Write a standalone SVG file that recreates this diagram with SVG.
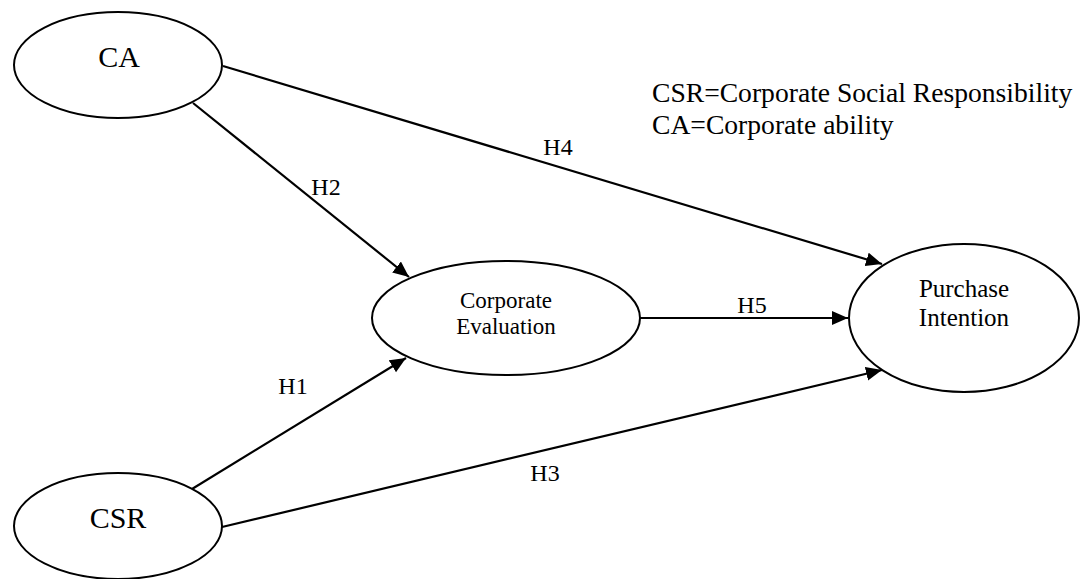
<svg xmlns="http://www.w3.org/2000/svg" width="1082" height="579" viewBox="0 0 1082 579">
  <style>
    .node { fill: #ffffff; stroke: #000000; stroke-width: 2; }
    .edge { fill: none; stroke: #000000; stroke-width: 2.2; marker-end: url(#arrow); }
    text { font-family: "Liberation Serif", "Times New Roman", serif; fill: #000000; }
    .big { font-size: 30px; text-anchor: middle; }
    .mid { font-size: 25px; text-anchor: middle; }
    .small { font-size: 23px; text-anchor: middle; }
    .lbl { font-size: 24px; text-anchor: middle; }
    .legend { font-size: 27.6px; }
  </style>
  <defs>
    <marker id="arrow" markerUnits="userSpaceOnUse" markerWidth="18" markerHeight="16" refX="16" refY="7" orient="auto">
      <path d="M0,0 L16,7 L0,14 Z" fill="#000000"/>
    </marker>
  </defs>

  <rect width="1082" height="579" fill="#ffffff"/>

  <!-- connectors -->
  <g id="edges">
    <line class="edge" x1="223" y1="66" x2="882" y2="264"/>
    <line class="edge" x1="193" y1="103" x2="409" y2="277"/>
    <line class="edge" x1="192" y1="489" x2="406" y2="358"/>
    <line class="edge" x1="222" y1="527" x2="882" y2="370"/>
    <line class="edge" x1="640" y1="318" x2="848" y2="318"/>
    <text class="lbl" x="558" y="155">H4</text>
    <text class="lbl" x="326" y="195">H2</text>
    <text class="lbl" x="293" y="394">H1</text>
    <text class="lbl" x="545" y="481">H3</text>
    <text class="lbl" x="752" y="313">H5</text>
  </g>

  <g id="node-ca">
    <ellipse class="node" cx="118" cy="65" rx="104" ry="53"/>
    <text class="big" x="119" y="67">CA</text>
  </g>

  <g id="node-csr">
    <ellipse class="node" cx="118" cy="526" rx="104" ry="53"/>
    <text class="big" x="118" y="528">CSR</text>
  </g>

  <g id="node-evaluation">
    <ellipse class="node" cx="506" cy="318" rx="134" ry="57"/>
    <text class="small" x="506" y="308">Corporate</text>
    <text class="small" x="506" y="334">Evaluation</text>
  </g>

  <g id="node-purchase">
    <ellipse class="node" cx="964" cy="318" rx="115" ry="74"/>
    <text class="mid" x="964" y="297">Purchase</text>
    <text class="mid" x="964" y="326">Intention</text>
  </g>

  <g id="legend">
    <text class="legend" x="652" y="102">CSR=Corporate Social Responsibility</text>
    <text class="legend" x="652" y="134">CA=Corporate ability</text>
  </g>
</svg>
